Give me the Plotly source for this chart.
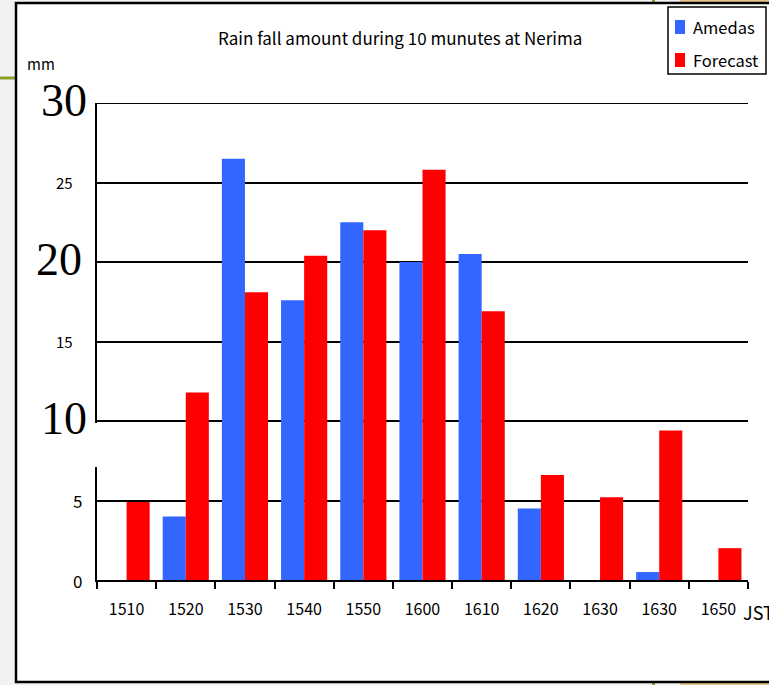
import plotly.graph_objects as go

# Rainfall per 10 minutes at Nerima (mm)
times = ["1510", "1520", "1530", "1540", "1550", "1600", "1610", "1620", "1630", "1630", "1650"]
amedas = [0, 4.0, 26.5, 17.6, 22.5, 20.0, 20.5, 4.5, 0, 0.5, 0]
forecast = [4.9, 11.8, 18.1, 20.4, 22.0, 25.8, 16.9, 6.6, 5.2, 9.4, 2.0]

big_ticks = [30, 20, 10]
small_ticks = [25, 15, 5, 0]

BLUE = "#3366FF"
RED = "#FF0000"
W, H = 769, 685
GOTHIC = "Noto Sans CJK JP, sans-serif"
SERIF = "Liberation Serif, DejaVu Serif, serif"


def px(x):
    return x / W


def py(y):
    return 1 - y / H


xpos = list(range(len(times)))
X0, X1 = 97, 748

fig = go.Figure()
fig.add_trace(go.Bar(x=xpos, y=amedas, name="Amedas", marker=dict(color=BLUE, line=dict(width=0))))
fig.add_trace(go.Bar(x=xpos, y=forecast, name="Forecast", marker=dict(color=RED, line=dict(width=0))))

shapes = [
    # slide background strip and outer frame
    dict(type="line", xref="paper", yref="paper", x0=0, x1=px(16), y0=py(78), y1=py(78),
         line=dict(color="#8C9B2A", width=3), layer="below"),
    dict(type="rect", xref="paper", yref="paper", x0=px(680), x1=1, y0=py(3), y1=1,
         fillcolor="#EBC48C", line=dict(width=0), layer="below"),
    dict(type="rect", xref="paper", yref="paper", x0=px(680), x1=1, y0=0, y1=py(683),
         fillcolor="#EBC48C", line=dict(width=0), layer="below"),
    dict(type="rect", xref="paper", yref="paper", x0=px(652), x1=px(655), y0=0, y1=py(683),
         fillcolor="#8C9B2A", line=dict(width=0), layer="below"),
    dict(type="rect", xref="paper", yref="paper", x0=px(652), x1=px(655), y0=py(3), y1=1,
         fillcolor="#8C9B2A", line=dict(width=0), layer="below"),
    dict(type="rect", xref="paper", yref="paper", x0=px(16), x1=px(772), y0=py(682), y1=py(3),
         fillcolor="white", line=dict(color="black", width=2.5), layer="below"),
    # top gridline at the range maximum
    dict(type="line", xref="paper", yref="y", x0=px(X0), x1=px(X1), y0=big_ticks[0], y1=big_ticks[0],
         line=dict(color="black", width=2), layer="above"),
    # white patch behind the large "10" label
    dict(type="rect", xref="paper", yref="paper", x0=px(86), x1=px(99), y0=py(467), y1=py(423),
         fillcolor="white", line=dict(width=0), layer="above"),
    # legend box
    dict(type="rect", xref="paper", yref="paper", x0=px(668), x1=px(766), y0=py(74), y1=py(7),
         fillcolor="white", line=dict(color="black", width=1.5), layer="above"),
    dict(type="rect", xref="paper", yref="paper", x0=px(675), x1=px(685), y0=py(34), y1=py(20),
         fillcolor=BLUE, line=dict(width=0), layer="above"),
    dict(type="rect", xref="paper", yref="paper", x0=px(675), x1=px(685), y0=py(67), y1=py(53),
         fillcolor=RED, line=dict(width=0), layer="above"),
]

annotations = [
    dict(text="Rain fall amount during 10 munutes at Nerima", xref="paper", yref="paper",
         x=px(400), y=py(37), xanchor="center", yanchor="middle", showarrow=False,
         font=dict(family=GOTHIC, size=17, color="black")),
    dict(text="mm", xref="paper", yref="paper", x=px(25), y=py(63), xanchor="left", yanchor="middle",
         showarrow=False, font=dict(family=GOTHIC, size=15, color="black")),
    dict(text="JST", xref="paper", yref="paper", x=px(741), y=py(612), xanchor="left", yanchor="middle",
         showarrow=False, font=dict(family=GOTHIC, size=18, color="black")),
    dict(text="Amedas", xref="paper", yref="paper", x=px(691), y=py(27), xanchor="left", yanchor="middle",
         showarrow=False, font=dict(family=GOTHIC, size=16.5, color="black")),
    dict(text="Forecast", xref="paper", yref="paper", x=px(691), y=py(60), xanchor="left", yanchor="middle",
         showarrow=False, font=dict(family=GOTHIC, size=16.5, color="black")),
]

big_x = {30: 89, 20: 84, 10: 89}
for v in big_ticks:
    annotations.append(dict(text=str(v), xref="paper", yref="y", x=px(big_x[v]), y=v,
                            xanchor="right", yanchor="middle", yshift=3, showarrow=False,
                            font=dict(family=SERIF, size=46, color="black")))
small_x = {25: 75, 15: 75, 5: 84, 0: 84}
small_size = {25: 15, 15: 15, 5: 17, 0: 17}
for v in small_ticks:
    annotations.append(dict(text=str(v), xref="paper", yref="y", x=px(small_x[v]), y=v,
                            xanchor="right", yanchor="middle", showarrow=False,
                            font=dict(family=GOTHIC, size=small_size[v], color="black")))

fig.update_layout(
    width=W, height=H,
    margin=dict(l=0, r=0, t=0, b=0),
    paper_bgcolor="#F2F2F2",
    plot_bgcolor="white",
    showlegend=False,
    barmode="group",
    bargap=0.22,
    bargroupgap=0,
    shapes=shapes,
    annotations=annotations,
    xaxis=dict(
        domain=[px(X0), px(X1)],
        range=[-0.5, len(times) - 0.5],
        tickmode="array", tickvals=xpos, ticktext=times,
        ticks="outside", ticklen=0, tickcolor="black",
        ticklabelstandoff=14,
        tickfont=dict(family=GOTHIC, size=16, color="black"),
        minor=dict(tick0=-0.5, dtick=1, ticks="outside", ticklen=7, tickwidth=1.5,
                   tickcolor="black", showgrid=False),
        showline=True, linecolor="black", linewidth=2,
        showgrid=False, zeroline=False,
    ),
    yaxis=dict(
        domain=[py(580), py(103)],
        range=[0, 30],
        tickmode="array", tickvals=[0, 5, 10, 15, 20, 25, 30],
        showticklabels=False, ticks="",
        showgrid=True, gridcolor="black", gridwidth=2,
        showline=True, linecolor="black", linewidth=2,
        zeroline=False,
    ),
)

fig.write_html("out.html")
